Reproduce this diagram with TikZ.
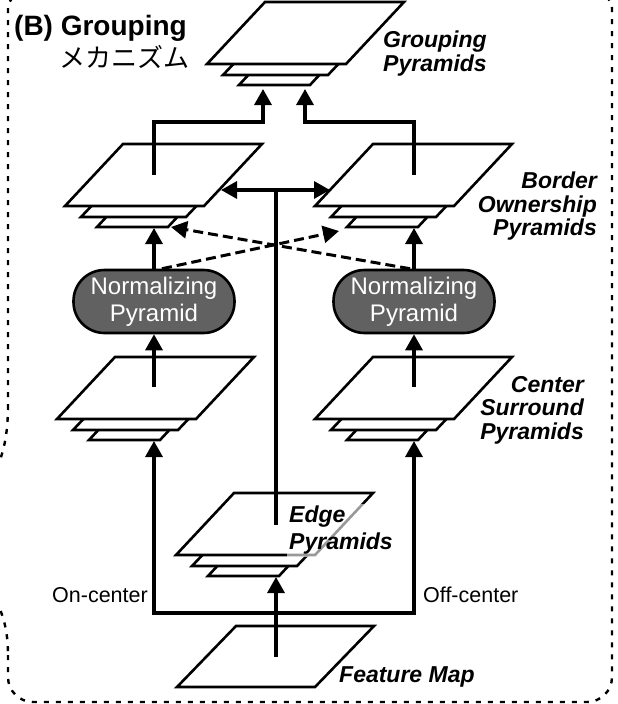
\documentclass[tikz,border=0pt]{standalone}
\usepackage{fontspec}
\setmainfont{Liberation Sans}
\newfontfamily\jpfont{Noto Sans CJK JP}
\usetikzlibrary{arrows.meta}
\newcommand{\PyrStack}[2]{%
  \begin{scope}[shift={(#1,#2)}]
    \draw[sheet] (32,21) -- (103,21) -- (131,-9) -- (60,-9) -- cycle;
    \draw[sheet] (16,11) -- (121,11) -- (159,-29) -- (54,-29) -- cycle;
    \draw[sheet] (0,0) -- (139,0) -- (197,-62) -- (58,-62) -- cycle;
  \end{scope}}
\begin{document}
\begin{tikzpicture}[x=1pt,y=-1pt,
  sheet/.style={draw=black,fill=white,line width=2.6pt,line join=miter},
  link/.style={line width=3.2pt},
  arr/.style={link,-{Triangle[length=16pt,width=17pt]}},
  darr/.style={link,{Triangle[length=16pt,width=17pt]}-{Triangle[length=16pt,width=17pt]}},
  dasharr/.style={line width=3pt,dash pattern=on 10pt off 5pt,-{Triangle[length=16pt,width=17pt]}},
  lbl/.style={font=\fontsize{23}{23.5}\selectfont\bfseries\itshape,inner sep=0pt},
  normbox/.style={draw=black,line width=2.6pt,fill=black!62,text=white,rounded corners=31pt,
    minimum width=161pt,minimum height=63pt,align=center,font=\fontsize{24}{27}\selectfont,inner sep=0pt},
  side/.style={font=\fontsize{21.5}{24}\selectfont,inner sep=0pt},
  border/.style={line width=2.4pt,dash pattern=on 5pt off 7pt}
]
\useasboundingbox (0,0) rectangle (618,704);
\fill[white] (0,0) rectangle (618,704);

% dashed frame
\begin{scope}
  \clip (0,0) rectangle (618,704);
  \draw[border] (-4,600) .. controls (3,615) and (8,630) .. (8,655);
  \draw[border,rounded corners=25pt] (8,655) -- (8,702) -- (612,702) -- (612,300);
  \draw[border,rounded corners=14pt] (612,300) -- (612,-6) -- (8,-6) -- (8,405);
  \draw[border] (8,405) .. controls (8,430) and (5,450) .. (-4,470);
\end{scope}

% titles
\node[anchor=base west,inner sep=0pt,font=\fontsize{28}{30}\selectfont\bfseries] (title) at (14,35) {(B) Grouping};
\node[anchor=west,inner sep=0pt,font=\jpfont\fontsize{26}{28}\selectfont] (jp) at (59,57) {メカニズム};

% sheets
\PyrStack{207}{64}
\PyrStack{65}{206}
\PyrStack{315}{206}
\PyrStack{57}{419}
\PyrStack{315}{419}
\PyrStack{176}{555}
\draw[sheet] (177,687) -- (315,687) -- (374,626) -- (236,626) -- cycle;

% labels
\node[lbl,anchor=north west,align=left] (lgp) at (383,31) {Grouping\\Pyramids};
\node[lbl,anchor=north east,align=right] (lbo) at (597,172) {Border\\Ownership\\Pyramids};
\node[lbl,anchor=north east,align=right] (lcs) at (584,376) {Center\\Surround\\Pyramids};
\node[lbl,anchor=north west,align=left,inner sep=2pt,fill=white,fill opacity=0.6,text opacity=1,
  font=\fontsize{23}{27}\selectfont\bfseries\itshape] (led) at (287,504) {Edge\\Pyramids};
\node[lbl,anchor=north west] (lfm) at (339,666) {Feature Map};
\node[side,anchor=east] (lon) at (148,595) {On-center};
\node[side,anchor=west] (loff) at (423,595) {Off-center};

% coordinates
\coordinate (fmS) at (276,657);
\coordinate (jn) at (276,613);
\coordinate (edB) at (276,577);
\coordinate (cslB) at (154,441);
\coordinate (csrB) at (414,441);
\coordinate (cslT) at (154,387);
\coordinate (csrT) at (414,387);
\coordinate (bolB) at (154,228);
\coordinate (borB) at (414,228);
\coordinate (bolT) at (154,175);
\coordinate (borT) at (414,175);
\coordinate (grL) at (263,89);
\coordinate (grR) at (305,89);
\coordinate (bolE) at (221,190);
\coordinate (borE) at (330,190);
\coordinate (hub) at (276,190);
\coordinate (edI) at (276,525);
\coordinate (bolD) at (171,227);
\coordinate (borD) at (339,231);

% normalizing nodes
\node[normbox] (Nl) at (154,301.5) {Normalizing\\Pyramid};
\node[normbox] (Nr) at (414,301.5) {Normalizing\\Pyramid};

% connectors
\draw[arr] (fmS) -- (edB);
\draw[arr] (jn) -| (cslB);
\draw[arr] (jn) -| (csrB);
\draw[arr] (cslT) -- (Nl.south);
\draw[arr] (csrT) -- (Nr.south);
\draw[arr] (Nl.north) -- (bolB);
\draw[arr] (Nr.north) -- (borB);
\draw[arr] (bolT) -- ++(0,-53) -| (grL);
\draw[arr] (borT) -- ++(0,-53) -| (grR);
\draw[darr] (bolE) -- (borE);
\draw[link] (hub) -- (edI);
\draw[dasharr] ([xshift=8pt]Nl.north) -- (borD);
\draw[dasharr] ([xshift=-4pt]Nr.north) -- (bolD);
\end{tikzpicture}
\end{document}
